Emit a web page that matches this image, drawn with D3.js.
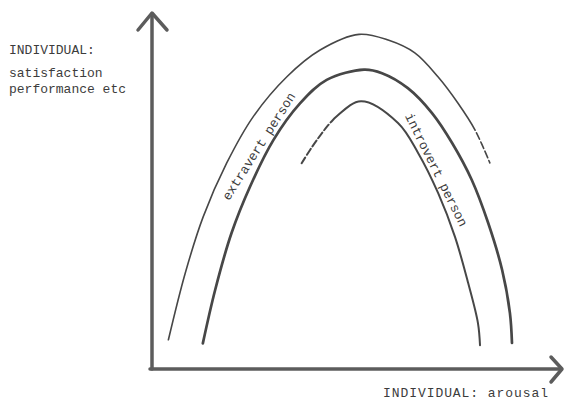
<!DOCTYPE html>
<html>
<head>
<meta charset="utf-8">
<script src="https://cdn.jsdelivr.net/npm/d3@7"></script>
<style>
  body { margin: 0; background: #fff; }
  text { font-family: "Liberation Mono", "DejaVu Sans Mono", monospace; fill: #3c3c3c; }
</style>
</head>
<body>
<div id="app"></div>
<script>

//
// Data (arousal 0..100 on x, performance 0..100 on y)
//

const outerArousal = [4.0, 8.1, 12.5, 18.2, 24.7, 32.9, 41.0, 50.5, 57.6, 64.1, 69.8, 74.6, 78.8, 82.4]
const outerPerf    = [8.2, 26.9, 42.8, 57.8, 70.9, 82.1, 89.6, 94.0, 92.4, 88.8, 82.0, 74.7, 67.1, 57.9]

const middleArousal = [12.4, 15.4, 19.4, 23.9, 29.6, 36.1, 42.6, 51.7, 56.1, 62.4, 68.3, 73.2, 78.0, 82.0, 85.4, 87.3, 87.8]
const middlePerf    = [7.2, 22.2, 38.2, 51.2, 64.3, 74.6, 81.2, 84.1, 83.1, 78.9, 71.9, 63.5, 53.1, 41.0, 27.8, 15.7, 7.3]

const innerArousal = [36.5, 40.2, 45.0, 51.0, 60.0, 64.9, 69.8, 73.9, 77.1, 79.5, 80.0]
const innerPerf    = [57.8, 64.3, 70.9, 75.2, 69.1, 60.7, 49.4, 37.1, 24.2, 12.9, 6.7]

// where the sketched curves turn into dashes
const outerDashAfter = 78.8
const innerDashBefore = 44

const curveLabels = ['extravert person', 'introvert person']
const labelArousal = [26.0, 69.4]
const labelPerf = [62.6, 56.0]
const labelAngle = [-57.5, 63.6]

const yTitle = ['INDIVIDUAL:', 'satisfaction', 'performance etc']
const xTitle = 'INDIVIDUAL: arousal'


//
// Constants
//

const width = 566
const height = 405
const ink = '#474747'
const axisInk = '#5c5c5c'

const x = d3.scaleLinear().domain([0, 100]).range([152, 562])
const y = d3.scaleLinear().domain([0, 100]).range([369, 13])

const zip = (xs, ys) => xs.map((v, i) => [v, ys[i]])

const curves = [
  { pts: zip(outerArousal, outerPerf), w: 1.6, dashAfter: outerDashAfter },
  { pts: zip(middleArousal, middlePerf), w: 2.7 },
  { pts: zip(innerArousal, innerPerf), w: 2.0, dashBefore: innerDashBefore },
]

const line = d3.line()
  .x(d => x(d[0]))
  .y(d => y(d[1]))
  .curve(d3.curveCatmullRom.alpha(0.5))


//
// Chart
//

const svg = d3.select('#app').append('svg')
  .attr('width', width)
  .attr('height', height)

// axes, drawn as plain arrows like the sketch
const axes = svg.append('g')
  .attr('fill', 'none')
  .attr('stroke', axisInk)
  .attr('stroke-width', 3.5)
  .attr('stroke-linecap', 'round')
  .attr('stroke-linejoin', 'round')

axes.append('path')
  .attr('d', `M${x(0)},${y(0)} V${y(100) + 1}`)
axes.append('path')
  .attr('d', `M${x(0) - 14},${y(100) + 17} L${x(0)},${y(100)} L${x(0) + 15},${y(100) + 17}`)

axes.append('path')
  .attr('d', `M${x(0) - 2},${y(0)} H${x(100) - 1}`)
axes.append('path')
  .attr('d', `M${x(100) - 11},${y(0) - 12} L${x(100)},${y(0)} L${x(100) - 11},${y(0) + 13}`)

// length along a path where it reaches a given arousal value
function lengthAt(path, value) {
  const total = path.getTotalLength()
  const target = x(value)
  let lo = 0, hi = total
  for (let i = 0; i < 30; i++) {
    const mid = (lo + hi) / 2
    if (path.getPointAtLength(mid).x < target) lo = mid
    else hi = mid
  }
  return lo
}

const dash = 7, gap = 3

svg.append('g')
  .attr('fill', 'none')
  .attr('stroke', ink)
  .attr('stroke-linecap', 'round')
  .selectAll('path').data(curves)
  .join('path')
  .attr('d', d => line(d.pts))
  .attr('stroke-width', d => d.w)
  .each(function(d) {
    const total = this.getTotalLength()
    if (d.dashAfter != null) {
      // solid first, then short dashes to the end
      const solid = lengthAt(this, d.dashAfter)
      const parts = [solid, gap]
      let l = solid + gap
      while (l < total) { parts.push(dash, gap); l += dash + gap }
      d3.select(this).attr('stroke-dasharray', parts.join(' '))
    } else if (d.dashBefore != null) {
      // dashes at the start, then solid
      const start = lengthAt(this, d.dashBefore)
      const parts = []
      let l = 0
      while (l + dash + gap < start) { parts.push(dash, gap); l += dash + gap }
      parts.push(start - l > 0 ? start - l : 0.1, 0, total, 0)
      d3.select(this).attr('stroke-dasharray', parts.join(' '))
    }
  })

// labels along the curves
svg.append('g')
  .selectAll('text').data(curveLabels)
  .join('text')
  .attr('transform', (d, i) => `translate(${x(labelArousal[i])},${y(labelPerf[i])}) rotate(${labelAngle[i]})`)
  .attr('text-anchor', 'middle')
  .attr('dy', '0.35em')
  .attr('font-size', 13)
  .text(d => d)

// axis titles
svg.append('g')
  .selectAll('text').data(yTitle)
  .join('text')
  .attr('x', 9)
  .attr('y', (d, i) => [54, 77, 93][i])
  .attr('font-size', 13)
  .text(d => d)

svg.append('text')
  .attr('x', 383)
  .attr('y', 397)
  .attr('font-size', 13)
  .attr('textLength', 165)
  .attr('lengthAdjust', 'spacing')
  .text(xTitle)

</script>
</body>
</html>
